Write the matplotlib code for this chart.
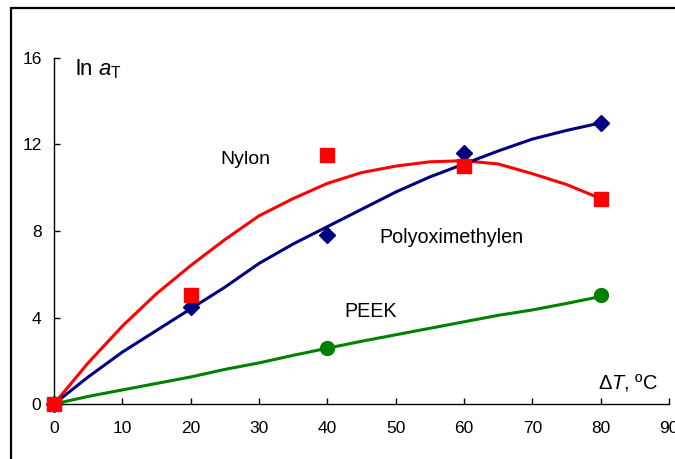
import matplotlib
matplotlib.use("Agg")
from matplotlib import pyplot as plt
from matplotlib.patches import Rectangle

# measured points
dT_meas = [0, 20, 40, 60, 80]
nylon_meas = [0, 5.05, 11.5, 11.0, 9.5]
pom_meas = [0, 4.5, 7.8, 11.6, 13.0]
peek_dT = [0, 40, 80]
peek_meas = [0, 2.6, 5.05]

# fitted curves (read at 5 degree steps)
dT_fit = [0, 5, 10, 15, 20, 25, 30, 35, 40, 45, 50, 55, 60, 65, 70, 75, 80]
nylon_fit = [0, 1.9, 3.6, 5.1, 6.4, 7.6, 8.7, 9.5, 10.2, 10.7, 11.0, 11.2,
             11.25, 11.1, 10.65, 10.15, 9.5]
pom_fit = [0, 1.25, 2.4, 3.4, 4.4, 5.4, 6.5, 7.4, 8.2, 9.0, 9.8, 10.5,
           11.1, 11.7, 12.25, 12.65, 13.0]
peek_fit = [0, 0.35, 0.65, 0.95, 1.25, 1.6, 1.9, 2.25, 2.58, 2.9, 3.2, 3.5,
            3.8, 4.1, 4.35, 4.65, 4.97]

x_ticks = [0, 10, 20, 30, 40, 50, 60, 70, 80, 90]
y_ticks = [0, 4, 8, 12, 16]

plt.rcParams["font.family"] = ["Liberation Sans", "DejaVu Sans"]
plt.rcParams["mathtext.fontset"] = "custom"
plt.rcParams["mathtext.rm"] = "Liberation Sans"
plt.rcParams["mathtext.it"] = "Liberation Sans:italic"

fig = plt.figure(figsize=(6.75, 4.59), dpi=100)
fig.patches.append(Rectangle((11 / 675, -0.2), 1.2, 1.2 - 8 / 459,
                             transform=fig.transFigure, fill=False,
                             edgecolor="black", linewidth=1.6))
ax = fig.add_axes([54 / 675, 55 / 459, 615 / 675, 346 / 459])

ax.plot(dT_fit, nylon_fit, color="#ff0000", lw=2.2, zorder=2)
ax.plot(dT_fit, pom_fit, color="#000080", lw=2.2, zorder=2)
ax.plot(dT_fit, peek_fit, color="#008000", lw=2.2, zorder=2)

ax.plot(dT_meas, pom_meas, "D", color="#000080", ms=8.5, ls="none", zorder=3)
ax.plot(peek_dT, peek_meas, "o", color="#008000", ms=10, ls="none", zorder=3)
ax.plot(dT_meas, nylon_meas, "s", color="#ff0000", ms=10, ls="none", zorder=4)

ax.set_xlim(0, 90)
ax.set_ylim(0, 16)
ax.set_xticks(x_ticks)
ax.set_yticks(y_ticks)
ax.tick_params(direction="in", length=4, width=1, labelsize=12.5)
ax.tick_params(axis="x", pad=12)
ax.tick_params(axis="y", pad=9)
for s in ["top", "right"]:
    ax.spines[s].set_visible(False)
for s in ["left", "bottom"]:
    ax.spines[s].set_linewidth(1)
for ln in ax.lines:
    ln.set_clip_on(False)

ax.text(28, 11.3, "Nylon", fontsize=14, ha="center", va="center")
ax.text(47.6, 7.7, "Polyoximethylen", fontsize=14.2, ha="left", va="center")
ax.text(42.5, 4.26, "PEEK", fontsize=14.2, ha="left", va="center")
ax.text(3.1, 15.5, r"ln $a_{\rm T}$", fontsize=16, ha="left", va="center")
ax.text(79.6, 1.0, r"$\Delta$$\it{T}$, ºC", fontsize=14.5, ha="left", va="center")

fig.savefig("out.png", dpi=100)
